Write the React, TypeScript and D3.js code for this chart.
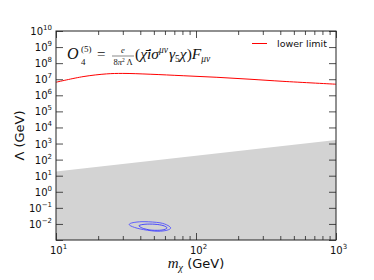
import { useEffect, useRef } from "react";
import * as d3 from "d3";

// red curve: lower limit on Lambda (GeV) vs m_chi (GeV)
const limitMass = [10, 15.6, 23, 30, 47, 81, 141, 243, 418, 1000];
const limitLambda = [6.5e6, 1.45e7, 2.15e7, 2.3e7, 2.05e7, 1.65e7, 1.32e7, 1.0e7, 7.4e6, 4.9e6];

// excluded (grey) band, lower edge of the white region
const bandMass = [10, 1000];
const bandLambda = [18, 1650];

// blue contours (log10 Lambda)
const outerMass = [33.5, 36.6, 43.2, 55.3, 63.1, 65.8, 60.1, 50.9, 39.8, 34.3];
const outerLogLambda = [-2.0, -1.9, -1.86, -1.93, -2.1, -2.28, -2.42, -2.45, -2.31, -2.13];
const innerMass = [39.2, 43.2, 50.9, 58.1, 62.1, 57.2, 48.5, 43.2, 40.5];
const innerLogLambda = [-2.1, -2.02, -2.02, -2.1, -2.25, -2.38, -2.39, -2.31, -2.22];

const xMajor = [10, 100, 1000];
const yMajorExp = d3.range(-3, 11);

const W = 374;
const H = 280;

export default function App() {
  const svgRef = useRef<SVGSVGElement>(null);

  useEffect(() => {
    if (!svgRef.current) return;
    const svg = d3.select(svgRef.current);
    svg.selectAll("*").remove();

    const left = 56, right = 336, top = 31, bottom = 240;
    const x = d3.scaleLog().domain([10, 1000]).range([left, right]);
    const y = d3.scaleLog().domain([1e-3, 1e10]).range([bottom, top]);

    const sans = "DejaVu Sans, sans-serif";
    const serif = "Liberation Serif, DejaVu Serif, serif";

    svg.append("rect").attr("width", W).attr("height", H).attr("fill", "#fff");

    // grey band
    const band = bandMass.map((m, i) => ({ m, v: bandLambda[i] }));
    svg
      .append("path")
      .datum(band)
      .attr("fill", "#d3d3d3")
      .attr(
        "d",
        d3
          .area<{ m: number; v: number }>()
          .x((d) => x(d.m))
          .y0(bottom)
          .y1((d) => y(d.v)),
      );

    // contours
    const contour = d3
      .line<{ m: number; l: number }>()
      .x((d) => x(d.m))
      .y((d) => y(Math.pow(10, d.l)))
      .curve(d3.curveCardinalClosed);
    [
      { ms: outerMass, ls: outerLogLambda, c: "#5050ff" },
      { ms: innerMass, ls: innerLogLambda, c: "#3a3aff" },
    ].forEach(({ ms, ls, c }) => {
      svg
        .append("path")
        .datum(ms.map((m, i) => ({ m, l: ls[i] })))
        .attr("fill", "none")
        .attr("stroke", c)
        .attr("stroke-width", 0.9)
        .attr("d", contour);
    });

    // red limit line
    svg
      .append("path")
      .datum(limitMass.map((m, i) => ({ m, v: limitLambda[i] })))
      .attr("fill", "none")
      .attr("stroke", "red")
      .attr("stroke-width", 1)
      .attr(
        "d",
        d3
          .line<{ m: number; v: number }>()
          .x((d) => x(d.m))
          .y((d) => y(d.v))
          .curve(d3.curveCatmullRom),
      );

    // axes (ticks pointing in)
    const xMinor = x.ticks().filter((t) => !xMajor.includes(t));
    const yTicks = yMajorExp.map((e) => Math.pow(10, e));
    const tickStyle = (g: any) => {
      g.select(".domain").remove();
      g.selectAll("line").attr("stroke", "#222").attr("stroke-width", 0.8);
    };
    svg.append("g").attr("transform", `translate(0,${bottom})`)
      .call(d3.axisBottom(x).tickValues(xMajor).tickSize(-7).tickFormat(() => "")).call(tickStyle);
    svg.append("g").attr("transform", `translate(0,${bottom})`)
      .call(d3.axisBottom(x).tickValues(xMinor).tickSize(-4).tickFormat(() => "")).call(tickStyle);
    svg.append("g").attr("transform", `translate(0,${top})`)
      .call(d3.axisTop(x).tickValues(xMajor).tickSize(-7).tickFormat(() => "")).call(tickStyle);
    svg.append("g").attr("transform", `translate(0,${top})`)
      .call(d3.axisTop(x).tickValues(xMinor).tickSize(-4).tickFormat(() => "")).call(tickStyle);
    svg.append("g").attr("transform", `translate(${left},0)`)
      .call(d3.axisLeft(y).tickValues(yTicks).tickSize(-7).tickFormat(() => "")).call(tickStyle);
    svg.append("g").attr("transform", `translate(${right},0)`)
      .call(d3.axisRight(y).tickValues(yTicks).tickSize(-7).tickFormat(() => "")).call(tickStyle);

    svg
      .append("rect")
      .attr("x", left)
      .attr("y", top)
      .attr("width", right - left)
      .attr("height", bottom - top)
      .attr("fill", "none")
      .attr("stroke", "#222")
      .attr("stroke-width", 1);

    // tick labels
    const expLabel = (sel: any, e: number) => {
      sel.append("tspan").text("10");
      sel
        .append("tspan")
        .attr("dy", -5)
        .attr("font-size", 7)
        .text(e < 0 ? `\u2212${-e}` : `${e}`);
    };
    xMajor.forEach((v) => {
      const t = svg
        .append("text")
        .attr("x", x(v) - 6)
        .attr("y", bottom + 14)
        .attr("font-family", sans)
        .attr("font-size", 10)
        .attr("fill", "#111");
      expLabel(t, Math.round(Math.log10(v)));
    });
    yMajorExp.filter((e) => e > -3).forEach((e) => {
      const t = svg
        .append("text")
        .attr("x", left - 4)
        .attr("y", y(Math.pow(10, e)) + 4)
        .attr("text-anchor", "end")
        .attr("font-family", sans)
        .attr("font-size", 10)
        .attr("fill", "#111");
      expLabel(t, e);
    });

    // axis labels
    const xl = svg
      .append("text")
      .attr("x", (left + right) / 2)
      .attr("y", 268)
      .attr("text-anchor", "middle")
      .attr("font-size", 13)
      .attr("fill", "#111");
    xl.append("tspan").attr("font-family", serif).attr("font-style", "italic").attr("font-size", 15).text("m");
    xl.append("tspan").attr("font-family", serif).attr("font-style", "italic").attr("font-size", 10).attr("dy", 3).text("\u03c7");
    xl.append("tspan").attr("font-family", sans).attr("dy", -3).text(" (GeV)");

    svg
      .append("text")
      .attr("transform", `translate(24,${(top + bottom) / 2}) rotate(-90)`)
      .attr("text-anchor", "middle")
      .attr("font-family", sans)
      .attr("font-size", 13)
      .attr("fill", "#111")
      .text("\u039b (GeV)");

    // legend
    svg.append("line").attr("x1", 252).attr("x2", 267).attr("y1", 43.5).attr("y2", 43.5)
      .attr("stroke", "red").attr("stroke-width", 1);
    svg.append("text").attr("x", 277).attr("y", 47).attr("font-family", sans)
      .attr("font-size", 9.5).attr("fill", "#111").text("lower limit");

    // operator formula
    const f = svg.append("g").attr("font-family", serif).attr("fill", "#111");
    f.append("text").attr("x", 67).attr("y", 59).attr("font-size", 16).attr("font-style", "italic").text("O");
    f.append("text").attr("x", 81).attr("y", 52).attr("font-size", 9).text("(5)");
    f.append("text").attr("x", 81).attr("y", 64.5).attr("font-size", 9).text("4");
    f.append("text").attr("x", 97).attr("y", 59).attr("font-size", 15).text("=");
    f.append("text").attr("x", 123).attr("y", 53).attr("text-anchor", "middle").attr("font-size", 8.5).attr("font-style", "italic").text("e");
    f.append("line").attr("x1", 112).attr("x2", 134).attr("y1", 56).attr("y2", 56).attr("stroke", "#111").attr("stroke-width", 0.5);
    const den = f.append("text").attr("x", 123).attr("y", 65).attr("text-anchor", "middle").attr("font-size", 8.5);
    den.append("tspan").text("8");
    den.append("tspan").attr("font-style", "italic").text("\u03c0");
    den.append("tspan").attr("font-size", 5.5).attr("dy", -3).text("2");
    den.append("tspan").attr("dy", 3).text("\u2009\u039b");

    const body = f.append("text").attr("x", 135).attr("y", 59).attr("font-size", 15.5);
    body.append("tspan").text("(");
    body.append("tspan").attr("font-style", "italic").text("\u03c7\u0304i\u03c3");
    body.append("tspan").attr("font-style", "italic").attr("font-size", 9.5).attr("dy", -6).text("\u03bc\u03bd");
    body.append("tspan").attr("font-style", "italic").attr("dy", 6).attr("dx", 1).text("\u03b3");
    body.append("tspan").attr("font-size", 9.5).attr("dy", 3).text("5");
    body.append("tspan").attr("font-style", "italic").attr("dy", -3).text("\u03c7");
    body.append("tspan").text(")");
    body.append("tspan").attr("font-style", "italic").text("F");
    body.append("tspan").attr("font-style", "italic").attr("font-size", 9.5).attr("dy", 3).text("\u03bc\u03bd");
  }, []);

  return (
    <svg
      ref={svgRef}
      width={W}
      height={H}
      viewBox={`0 0 ${W} ${H}`}
      style={{ position: "absolute", left: 0, top: 0 }}
    />
  );
}
